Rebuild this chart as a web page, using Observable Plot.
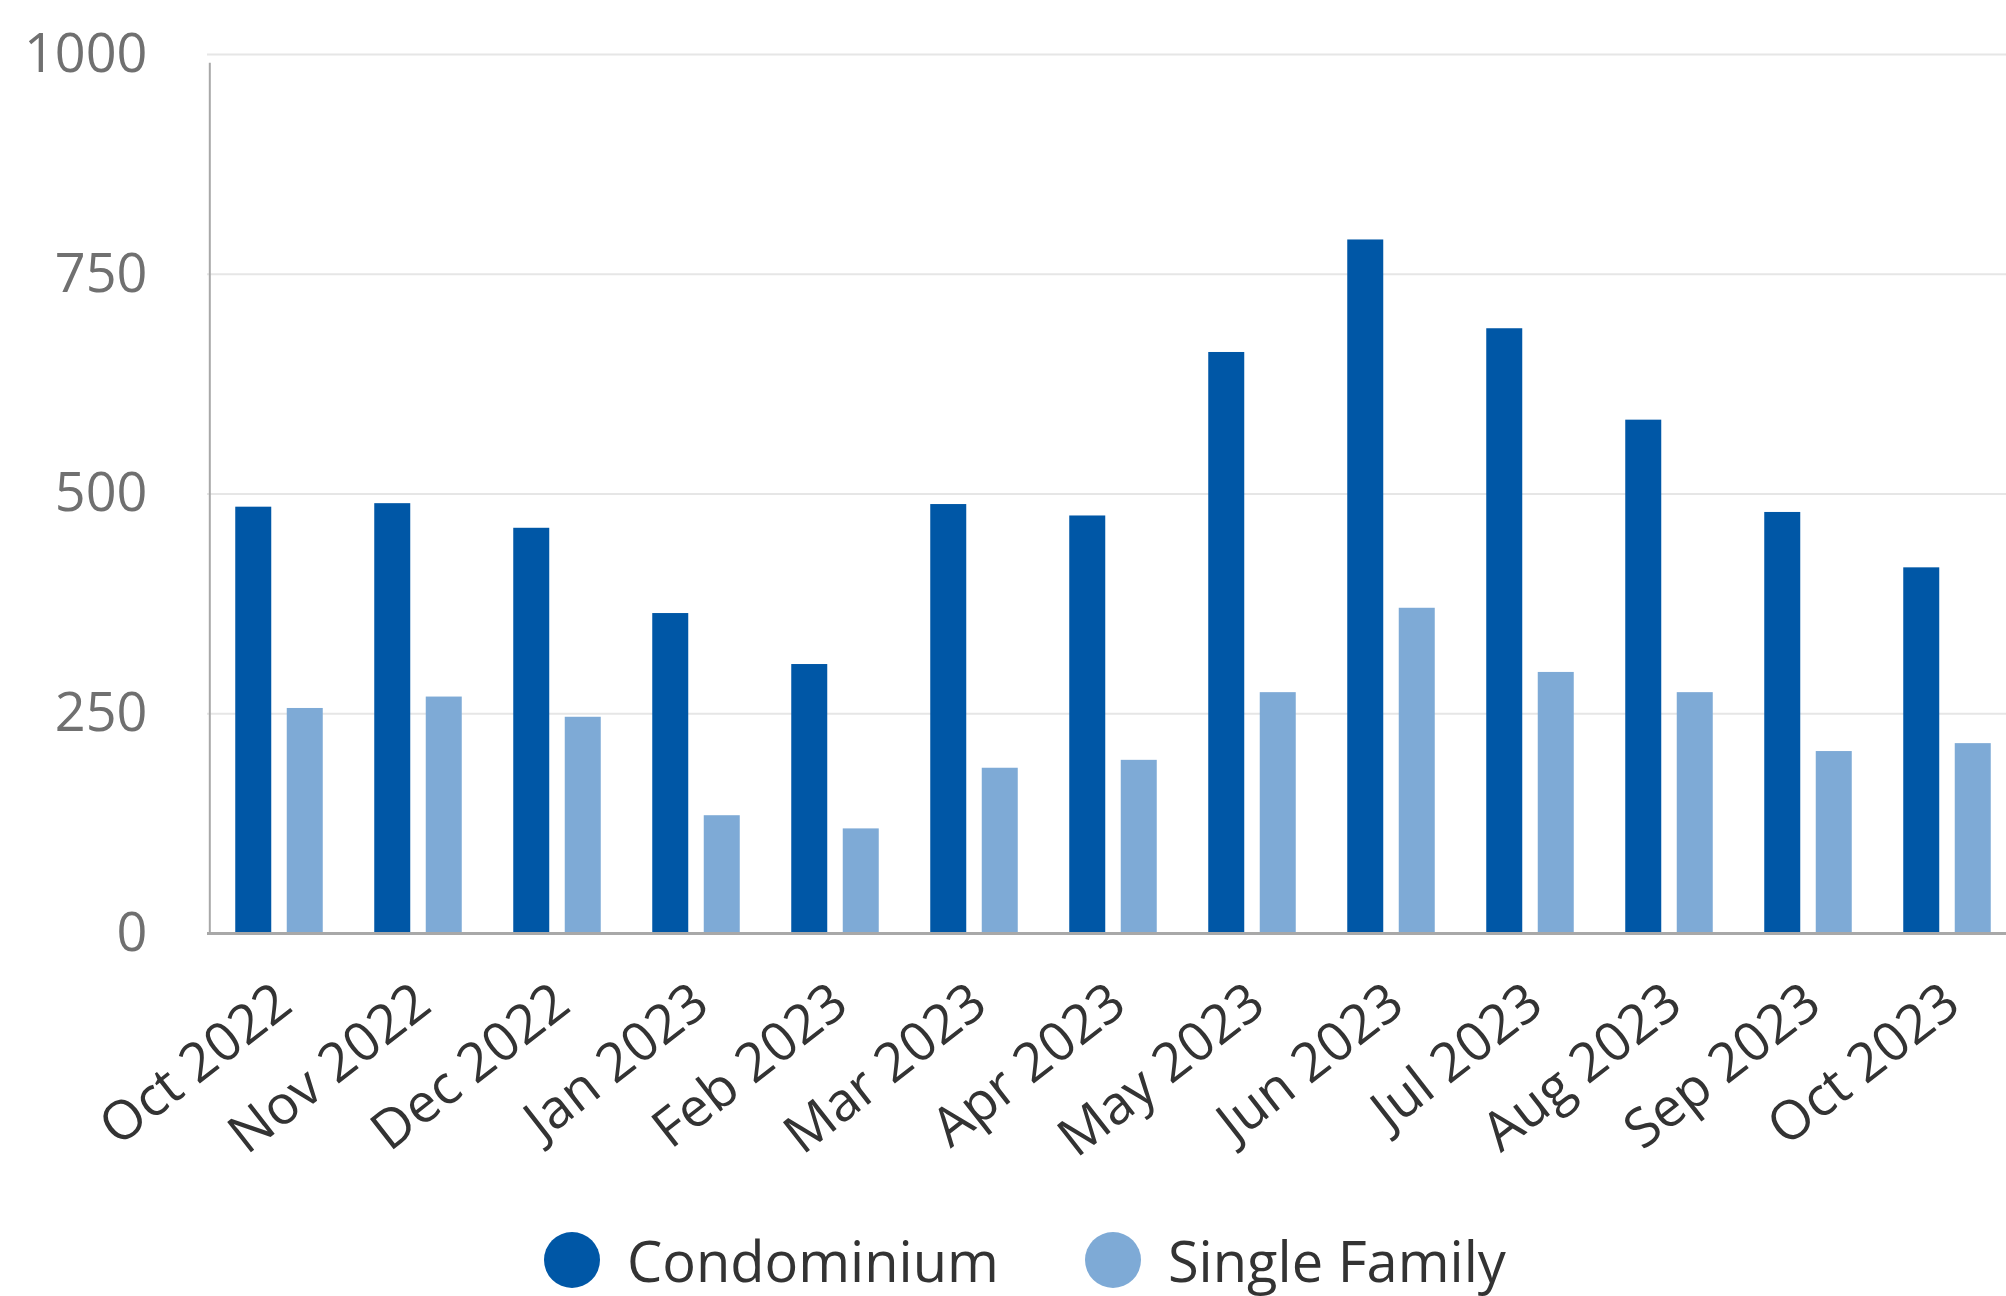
<!DOCTYPE html>
<html>
<head>
<meta charset="utf-8">
<script src="https://cdn.jsdelivr.net/npm/d3@7"></script>
<script src="https://cdn.jsdelivr.net/npm/@observablehq/plot@0.6"></script>
<style>
  html, body { margin: 0; padding: 0; background: #fff; overflow: hidden; }
  #chart svg { display: block; }
  .legend { display: flex; align-items: center; height: 120px; padding-left: 544px;
            font-family: "Open Sans", sans-serif; font-size: 56px; line-height: 1; color: #333; }
  .item { display: flex; align-items: center; margin-right: 86px; }
  .swatch { width: 56px; height: 56px; border-radius: 50%; margin-right: 27px; }
</style>
</head>
<body>
<div id="chart"></div>
<div class="legend" id="legend"></div>
<script>
const months = ["Oct 2022","Nov 2022","Dec 2022","Jan 2023","Feb 2023","Mar 2023","Apr 2023","May 2023","Jun 2023","Jul 2023","Aug 2023","Sep 2023","Oct 2023"];
const condominium = [485, 489, 461, 364, 306, 488, 475, 661, 789, 688, 584, 479, 416];
const singleFamily = [256, 269, 246, 134, 119, 188, 197, 274, 370, 297, 274, 207, 216];
const seriesNames = ["Condominium", "Single Family"];
const seriesColors = ["#0057a6", "#7eaad6"];
const yTicks = [0, 250, 500, 750, 1000];

const condoData = months.map((m, i) => ({month: m, value: condominium[i]}));
const singleData = months.map((m, i) => ({month: m, value: singleFamily[i]}));

const step = (2019 - 207) / months.length;

const chart = Plot.plot({
  width: 2006,
  height: 1200,
  marginLeft: 207,
  marginRight: -13,
  marginTop: 54,
  marginBottom: 267,
  style: {fontFamily: "'Open Sans', sans-serif", background: "#fff", overflow: "visible"},
  x: {type: "band", domain: months, paddingInner: 0.742, paddingOuter: 0.371, label: null},
  y: {domain: [0, 1000], label: null},
  marks: [
    Plot.ruleY(yTicks.filter(d => d > 0), {stroke: "#e6e6e6", strokeWidth: 2}),
    Plot.barY(condoData, {x: "month", y: "value", fill: seriesColors[0], dx: -25.75}),
    Plot.barY(singleData, {x: "month", y: "value", fill: seriesColors[1], dx: 25.75}),
    Plot.ruleY([0], {stroke: "#a8a8a8", strokeWidth: 3}),
    Plot.ruleX([months[0]], {y1: 0, y2: 990, stroke: "#a8a8a8", strokeWidth: 2, dx: -step / 2}),
    Plot.axisY({ticks: yTicks, tickFormat: d => String(d), tickSize: 0, tickPadding: 60, fontSize: 54, fill: "#707070", label: null}),
    Plot.axisX({tickSize: 0, tickPadding: 62, tickRotate: -38, fontSize: 54, fill: "#333", label: null, dx: 5})
  ]
});
document.getElementById("chart").appendChild(chart);

const legend = document.getElementById("legend");
seriesNames.forEach((name, i) => {
  const item = document.createElement("div");
  item.className = "item";
  const sw = document.createElement("span");
  sw.className = "swatch";
  sw.style.background = seriesColors[i];
  const label = document.createElement("span");
  label.textContent = name;
  item.appendChild(sw);
  item.appendChild(label);
  legend.appendChild(item);
});
</script>
</body>
</html>
